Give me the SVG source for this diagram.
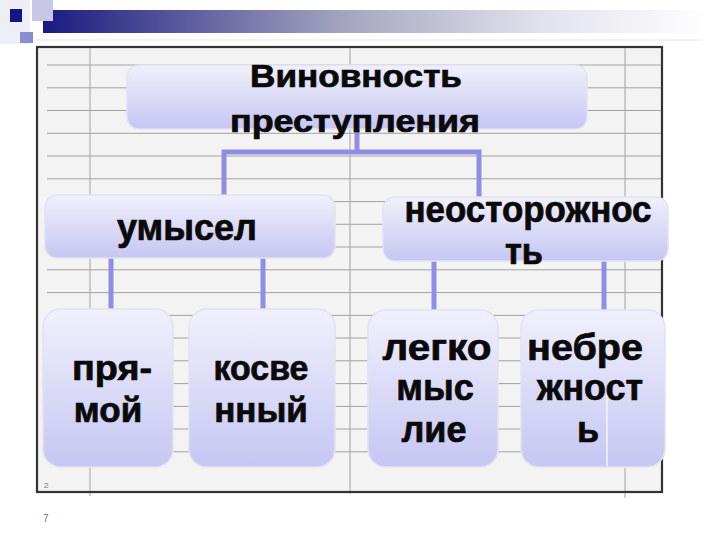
<svg xmlns="http://www.w3.org/2000/svg" width="720" height="540" viewBox="0 0 720 540">
  <defs>
    <linearGradient id="bar" x1="0" y1="0" x2="1" y2="0">
      <stop offset="0" stop-color="#1a1a80"/>
      <stop offset="0.45" stop-color="#a4a4c0"/>
      <stop offset="0.75" stop-color="#e2e2ec"/>
      <stop offset="1" stop-color="#ffffff"/>
    </linearGradient>
    <linearGradient id="box" x1="0" y1="0" x2="0" y2="1">
      <stop offset="0" stop-color="#f0f0fc"/>
      <stop offset="1" stop-color="#c6c6f3"/>
    </linearGradient>
    <style>
      .grid { stroke: #a2a2a2; stroke-width: 1; }
      .node { fill: url(#box); stroke: #e2e2f2; stroke-width: 1.5; }
      .conn { stroke: #8e8ee4; stroke-width: 5; fill: none; stroke-linecap: butt; stroke-linejoin: miter; }
      .t { font-family: "Liberation Sans", Arial, sans-serif; font-weight: bold; fill: #0a0a0a; stroke: #0a0a0a; stroke-width: 0.7; text-anchor: middle; }
      .num { font-family: "Liberation Sans", Arial, sans-serif; fill: #777; }
    </style>
  </defs>

  <rect width="720" height="540" fill="#ffffff"/>

  <!-- top decoration -->
  <g id="decoration">
    <rect x="0" y="0" width="30" height="44" fill="#eeeef6"/>
    <rect x="43" y="10" width="665" height="23" fill="url(#bar)"/>
    <rect x="32" y="0" width="21" height="21" fill="#c8c8e6"/>
    <rect x="20" y="32" width="13" height="11" fill="#8c8cd0"/>
    <rect x="10" y="9" width="12" height="13" fill="#14148a"/>
    <line x1="35" y1="40" x2="700" y2="40" stroke="#e4e4e4" stroke-width="1"/>
  </g>

  <!-- frame with ruled background -->
  <g id="frame">
    <rect x="37" y="47" width="625" height="445" fill="#f3f3f3"/>
    <g class="grid">
      <line x1="47" y1="65" x2="661" y2="65"/>
      <line x1="47" y1="87.8" x2="661" y2="87.8"/>
      <line x1="47" y1="110.5" x2="661" y2="110.5"/>
      <line x1="47" y1="133.3" x2="661" y2="133.3"/>
      <line x1="47" y1="156" x2="661" y2="156"/>
      <line x1="47" y1="178.8" x2="661" y2="178.8"/>
      <line x1="47" y1="201.6" x2="661" y2="201.6"/>
      <line x1="47" y1="224.3" x2="661" y2="224.3"/>
      <line x1="47" y1="247" x2="661" y2="247"/>
      <line x1="47" y1="269.8" x2="661" y2="269.8"/>
      <line x1="47" y1="292.6" x2="661" y2="292.6"/>
      <line x1="47" y1="315.4" x2="661" y2="315.4"/>
      <line x1="47" y1="338" x2="661" y2="338"/>
      <line x1="47" y1="360.8" x2="661" y2="360.8"/>
      <line x1="47" y1="383.6" x2="661" y2="383.6"/>
      <line x1="47" y1="406.4" x2="661" y2="406.4"/>
      <line x1="47" y1="429" x2="661" y2="429"/>
      <line x1="47" y1="451.8" x2="661" y2="451.8"/>
      <line x1="90" y1="47" x2="90" y2="496"/>
      <line x1="350" y1="47" x2="350" y2="494"/>
      <line x1="625" y1="47" x2="625" y2="498"/>
    </g>
    <rect x="37" y="47" width="625" height="445" fill="none" stroke="#333" stroke-width="2.2"/>
    <text class="num" x="44" y="488" font-size="8">2</text>
    <text class="num" x="43" y="522" font-size="10">7</text>
  </g>

  <!-- connectors -->
  <g id="connectors">
    <path class="conn" d="M357 129 V152"/>
    <path class="conn" d="M224 197 V152 H479 V197"/>
    <path class="conn" d="M111 258 V310"/>
    <path class="conn" d="M263 258 V310"/>
    <path class="conn" d="M434 261 V311"/>
    <path class="conn" d="M604 261 V311"/>
  </g>

  <g id="root">
    <rect class="node" x="127" y="65" width="460" height="64" rx="12"/>
    <text class="t" x="356" y="87" font-size="31" textLength="212" lengthAdjust="spacingAndGlyphs">Виновность</text>
    <text class="t" x="355" y="132" font-size="31" textLength="250" lengthAdjust="spacingAndGlyphs">преступления</text>
  </g>

  <g id="intent">
    <rect class="node" x="45" y="195" width="290" height="63" rx="12"/>
    <text class="t" x="187" y="240" font-size="37" textLength="140" lengthAdjust="spacingAndGlyphs">умысел</text>
  </g>

  <g id="negligence">
    <rect class="node" x="383" y="197" width="285" height="64" rx="12"/>
    <text class="t" x="528" y="222" font-size="36" textLength="247" lengthAdjust="spacingAndGlyphs">неосторожнос</text>
    <text class="t" x="524" y="264" font-size="36" textLength="38" lengthAdjust="spacingAndGlyphs">ть</text>
  </g>

  <g id="direct">
    <rect class="node" x="43" y="309" width="130" height="158" rx="18"/>
    <text class="t" x="112" y="380" font-size="35" textLength="80" lengthAdjust="spacingAndGlyphs">пря-</text>
    <text class="t" x="108" y="422" font-size="35">мой</text>
  </g>

  <g id="indirect">
    <rect class="node" x="189" y="309" width="146" height="158" rx="18"/>
    <text class="t" x="261" y="380" font-size="35" textLength="95" lengthAdjust="spacingAndGlyphs">косве</text>
    <text class="t" x="261" y="422" font-size="35">нный</text>
  </g>

  <g id="frivolity">
    <rect class="node" x="368" y="310" width="130" height="157" rx="18"/>
    <text class="t" x="437" y="360" font-size="36" textLength="109" lengthAdjust="spacingAndGlyphs">легко</text>
    <text class="t" x="435" y="400" font-size="36">мыс</text>
    <text class="t" x="434" y="442" font-size="36">лие</text>
  </g>

  <g id="carelessness">
    <rect class="node" x="521" y="310" width="144" height="157" rx="18"/>
    <line x1="607" y1="395" x2="607" y2="466" stroke="#f4f4fc" stroke-width="1.5"/>
    <text class="t" x="585" y="360" font-size="36" textLength="116" lengthAdjust="spacingAndGlyphs">небре</text>
    <text class="t" x="590" y="400" font-size="36" textLength="106" lengthAdjust="spacingAndGlyphs">жност</text>
    <text class="t" x="588" y="442" font-size="36">ь</text>
  </g>
</svg>
